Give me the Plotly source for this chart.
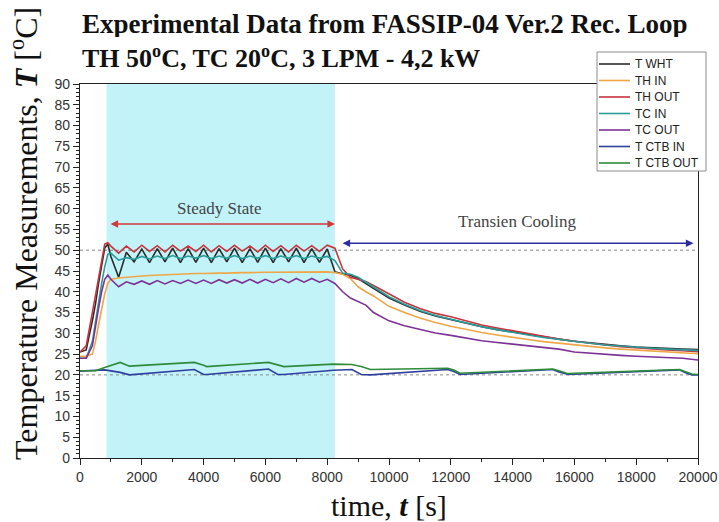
import plotly.graph_objects as go

# ---- data -------------------------------------------------------------
t = [0, 200, 400, 500, 600, 700, 800, 900, 1000, 1250, 1500, 1750, 2000, 2250, 2500,
     2750, 3000, 3250, 3500, 3750, 4000, 4250, 4500, 4750, 5000, 5250, 5500, 5750,
     6000, 6250, 6500, 6750, 7000, 7250, 7500, 7750, 8000, 8250, 8500, 8750, 9000,
     9250, 9500, 10000, 10500, 11000, 11500, 12000, 12500, 13000, 13500, 14000,
     14500, 15000, 15500, 16000, 16500, 17000, 17500, 18000, 18500, 19000, 19500, 20000]

t_wht = [25.5, 26, 33, 37, 42, 46.5, 50.5, 51.5, 48.5, 43.5, 49.5, 47.2, 50.3, 47.0, 50.4,
         47.2, 50.5, 47.0, 50.4, 47.1, 50.5, 47.0, 50.4, 47.2, 50.5, 47.0, 50.4, 47.1,
         50.5, 47.0, 50.4, 47.2, 50.5, 47.0, 50.4, 47.1, 50.3, 44.8, 44.3, 44.0, 43.2,
         42.0, 40.8, 38.5, 36.8, 35.3, 34.2, 33.3, 32.4, 31.6, 30.9, 30.3,
         29.7, 29.1, 28.6, 28.1, 27.7, 27.3, 27.0, 26.7, 26.5, 26.3, 26.2, 26.1]

th_in = [24.5, 24.5, 25, 28, 32, 36, 39.5, 42, 43, 43.3, 43.5, 43.6, 43.8, 43.9, 44.0,
         44.1, 44.2, 44.3, 44.3, 44.4, 44.4, 44.5, 44.5, 44.5, 44.6, 44.6, 44.6, 44.7,
         44.7, 44.7, 44.7, 44.8, 44.8, 44.8, 44.8, 44.8, 44.8, 44.6, 44.2, 43.2, 41.2,
         40.0, 39.0, 36.5, 35.0, 33.7, 32.6, 31.7, 30.9, 30.2, 29.6, 29.0,
         28.5, 28.0, 27.6, 27.2, 26.8, 26.5, 26.2, 26.0, 25.7, 25.5, 25.3, 25.1]

th_out = [25.5, 27, 35, 39, 43.5, 47.5, 51.5, 51.8, 51.0, 49.3, 51.0, 49.6, 51.2, 49.7, 51.1,
          49.6, 51.2, 49.8, 51.0, 49.7, 51.2, 49.6, 51.1, 49.7, 51.2, 49.8, 51.0, 49.6,
          51.2, 49.7, 51.1, 49.6, 51.2, 49.8, 51.1, 49.7, 51.2, 50.5, 45.5, 43.5, 43.0,
          42.5, 41.5, 39.5, 37.5, 36.0, 34.8, 34.0, 33.0, 32.0, 31.3, 30.6,
          29.9, 29.3, 28.6, 28.1, 27.6, 27.2, 26.8, 26.5, 26.2, 26.0, 25.8, 25.6]

tc_in = [24, 24, 28, 33, 38, 42, 46, 49, 49.3, 47.6, 48.2, 47.8, 48.5, 47.9, 48.6,
         48.0, 48.7, 48.0, 48.6, 48.1, 48.7, 48.0, 48.6, 48.1, 48.7, 48.0, 48.6, 48.1,
         48.7, 48.0, 48.6, 48.1, 48.7, 48.0, 48.6, 48.1, 48.5, 47.5, 44.5, 44.2, 43.5,
         42.3, 41.2, 38.8, 37.0, 35.5, 34.3, 33.4, 32.5, 31.6, 30.9, 30.2,
         29.6, 29.0, 28.5, 28.0, 27.6, 27.2, 26.9, 26.6, 26.4, 26.2, 26.0, 25.9]

tc_out = [24, 24, 27, 32, 36, 40, 43, 44, 43, 41.2, 42.4, 41.8, 42.6, 41.8, 42.7,
          41.9, 42.7, 42.0, 42.8, 42.0, 42.8, 42.0, 42.9, 42.1, 42.9, 42.1, 43.0, 42.1,
          43.0, 42.2, 43.1, 42.2, 43.2, 42.3, 43.2, 42.3, 43.0, 42.0, 40.0, 38.5, 37.6,
          36.8, 35.0, 33.0, 31.8, 30.9, 30.1, 29.5, 28.8, 28.2, 27.8, 27.4,
          27.0, 26.6, 26.2, 25.5, 25.2, 24.9, 24.7, 24.5, 24.3, 24.2, 24.0, 23.6]

t_ctb = [0, 500, 800, 1300, 1600, 3700, 4000, 4100, 6100, 6400, 6600, 8200, 8800, 9100,
         9400, 11900, 12100, 12300, 15300, 15500, 15800, 19400, 19600, 19800, 20000]

ctb_in = [20.9, 21.0, 21.2, 20.6, 20.0, 21.3, 20.1, 20.1, 21.4, 20.1, 20.1, 21.1, 21.3, 20.1,
          20.0, 21.3, 20.8, 20.1, 21.3, 20.7, 20.1, 21.2, 20.5, 20.0, 20.0]

ctb_out = [21.0, 21.0, 21.8, 23.0, 22.1, 23.0, 22.3, 22.0, 23.0, 22.4, 22.0, 22.6, 22.5, 22.0,
           21.3, 21.6, 21.2, 20.4, 21.4, 21.0, 20.3, 21.3, 20.8, 20.2, 20.1]

series_names = ["T WHT", "TH IN", "TH OUT", "TC IN", "TC OUT", "T CTB IN", "T CTB OUT"]
series_colors = ["#2b2b2b", "#f0a646", "#c8343e", "#2a9d9a", "#7d3296", "#2f3f9e", "#2e8b3a"]

ref_levels = [50, 20]
steady_range = [860, 8250]
x_ticks = [0, 2000, 4000, 6000, 8000, 10000, 12000, 14000, 16000, 18000, 20000]
x_ticklabels = ["0", "2000", "4000", "6000", "8000", "10000", "12000", "14000", "16000", "18000", "20000"]
y_ticks = [0, 5, 10, 15, 20, 25, 30, 35, 40, 45, 50, 55, 60, 65, 70, 75, 80, 85, 90]

# ---- geometry helpers (pixel -> paper) -------------------------------
W, H = 719, 522
ML, MR, MT, MB = 80, 21, 84, 64
PW, PH = W - ML - MR, H - MT - MB


def px_x(px):
    return (px - ML) / PW


def px_y(py):
    return (H - MB - py) / PH


# ---- figure -----------------------------------------------------------
fig = go.Figure()
xs = [t, t, t, t, t, t_ctb, t_ctb]
ys = [t_wht, th_in, th_out, tc_in, tc_out, ctb_in, ctb_out]
for name, col, xv, yv in zip(series_names, series_colors, xs, ys):
    fig.add_trace(go.Scatter(x=xv, y=yv, mode="lines", name=name, showlegend=False,
                             line=dict(color=col, width=1.6)))

fig.add_shape(type="rect", xref="x", yref="paper", x0=steady_range[0], x1=steady_range[1],
              y0=0, y1=1, fillcolor="#c2f3f9", line=dict(width=0), layer="below")
for lv in ref_levels:
    fig.add_shape(type="line", xref="x", yref="y", x0=0, x1=20000, y0=lv, y1=lv,
                  line=dict(color="#8a8a8a", width=1, dash="dot"), layer="below")

serif = "Liberation Serif, Times New Roman, serif"
sans = "Liberation Sans, Arial, sans-serif"

# arrows
fig.add_annotation(x=8250, y=56.3, ax=940, ay=56.3, xref="x", yref="y", axref="x", ayref="y",
                   text="", showarrow=True, arrowhead=2, arrowside="end+start",
                   arrowsize=1, arrowwidth=1.5, arrowcolor="#d23a3a")
fig.add_annotation(x=4530, y=60, text="Steady State", showarrow=False, xref="x", yref="y",
                   font=dict(family=serif, size=17, color="#444"))
fig.add_annotation(x=19850, y=51.7, ax=8450, ay=51.7, xref="x", yref="y", axref="x", ayref="y",
                   text="", showarrow=True, arrowhead=2, arrowside="end+start",
                   arrowsize=1, arrowwidth=1.5, arrowcolor="#2c2ca0")
fig.add_annotation(x=14140, y=56.8, text="Transien Cooling", showarrow=False, xref="x", yref="y",
                   font=dict(family=serif, size=17, color="#444"))

# titles
fig.add_annotation(x=0, y=px_y(24), xref="paper", yref="paper", xanchor="left", yanchor="middle",
                   showarrow=False, height=26, valign="middle",
                   text="<b>Experimental Data from FASSIP-04 Ver.2 Rec. Loop</b>",
                   font=dict(family=serif, size=27, color="#111"))
fig.add_annotation(x=0, y=px_y(57), xref="paper", yref="paper", xanchor="left", yanchor="middle",
                   showarrow=False, height=26, valign="middle",
                   text="<b>TH 50<sup>o</sup>C, TC 20<sup>o</sup>C, 3 LPM - 4,2 kW</b>",
                   font=dict(family=serif, size=26, color="#111"))
fig.add_annotation(x=px_x(24), y=px_y(234), xref="paper", yref="paper", textangle=-90,
                   showarrow=False, xanchor="center", yanchor="middle",
                   text="Temperature Measurements, <b><i>T</i></b> [<sup>o</sup>C]",
                   font=dict(family=serif, size=32, color="#111"))
fig.add_annotation(x=0.5, y=px_y(505), xref="paper", yref="paper", showarrow=False,
                   xanchor="center", yanchor="middle",
                   text="time, <b><i>t</i></b> [s]",
                   font=dict(family=serif, size=30, color="#111"))

# legend box (drawn as shapes + text so the compact row spacing matches)
fig.add_shape(type="rect", xref="paper", yref="paper", x0=px_x(597), x1=px_x(706),
              y0=px_y(171), y1=px_y(52), fillcolor="white",
              line=dict(color="#8c8c8c", width=1), layer="above")
for i, (name, col) in enumerate(zip(series_names, series_colors)):
    yy = px_y(64 + i * 16.5)
    fig.add_shape(type="line", xref="paper", yref="paper", x0=px_x(599), x1=px_x(630),
                  y0=yy, y1=yy, line=dict(color=col, width=1.6), layer="above")
    fig.add_annotation(x=px_x(633), y=yy, xref="paper", yref="paper", xanchor="left",
                       yanchor="middle", showarrow=False, text=name,
                       font=dict(family=sans, size=12, color="#222"))

fig.update_layout(
    width=W, height=H,
    margin=dict(l=ML, r=MR, t=MT, b=MB, autoexpand=False),
    plot_bgcolor="white", paper_bgcolor="white",
    showlegend=False,
)
fig.update_xaxes(range=[0, 20000], tickvals=x_ticks, ticktext=x_ticklabels, ticks="outside",
                 ticklen=6, tickwidth=1.2, automargin=False,
                 tickcolor="#222", showline=True, linecolor="#222", linewidth=1.3, mirror=True,
                 showgrid=False, zeroline=False,
                 tickfont=dict(family=sans, size=14, color="#333"),
                 minor=dict(dtick=1000, ticks="outside", ticklen=3, tickcolor="#222", showgrid=False))
fig.update_yaxes(range=[0, 90], tickvals=y_ticks, ticks="outside", ticklen=6, tickwidth=1.2,
                 automargin=False,
                 tickcolor="#222", showline=True, linecolor="#222", linewidth=1.3, mirror=True,
                 showgrid=False, zeroline=False,
                 tickfont=dict(family=sans, size=14, color="#333"),
                 minor=dict(dtick=1, ticks="outside", ticklen=3, tickcolor="#222", showgrid=False))

fig.write_html("out.html", config={"displayModeBar": False},
               post_script="document.body.style.margin='0px';")
